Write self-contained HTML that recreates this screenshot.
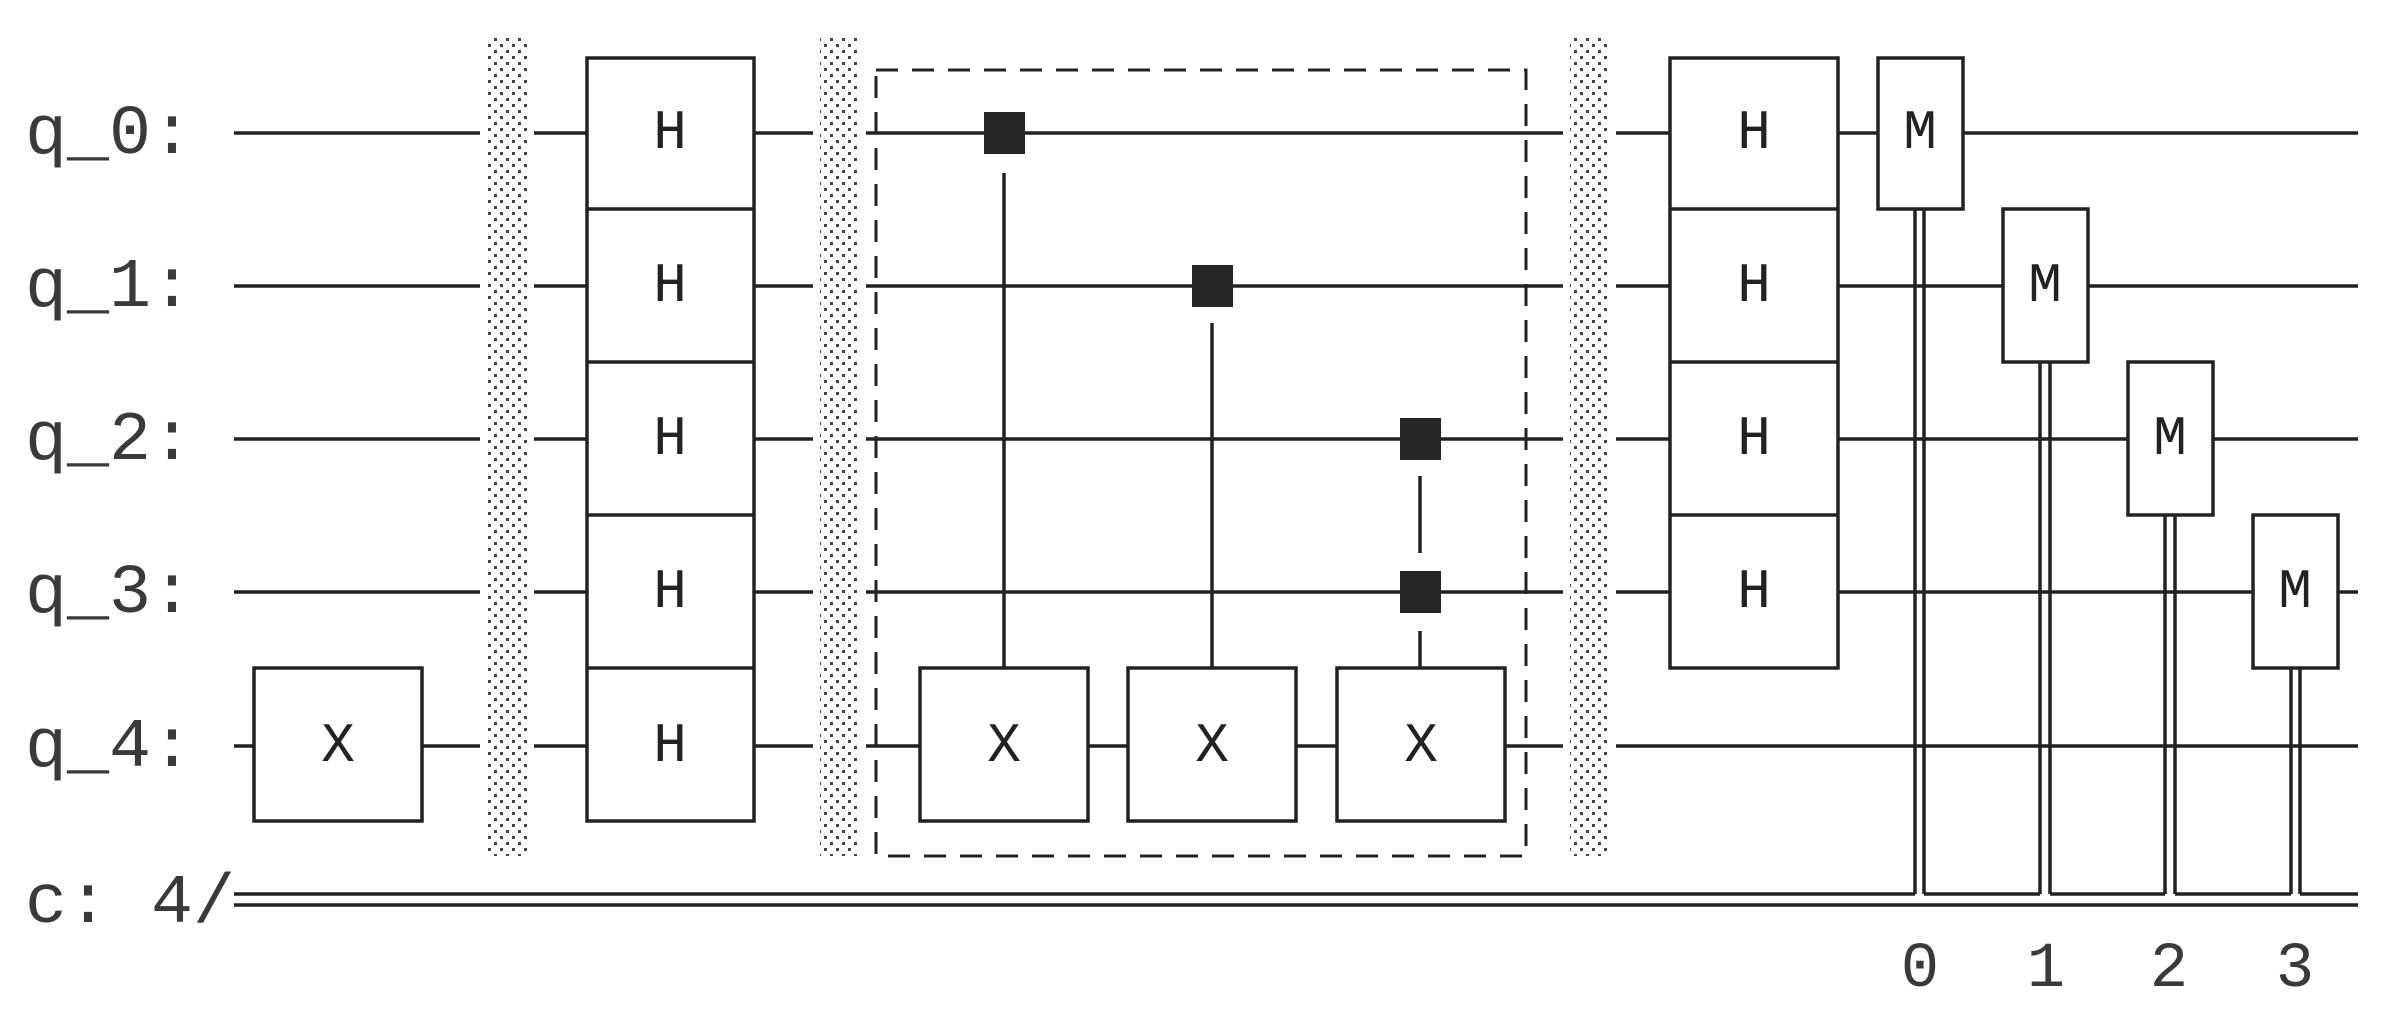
<!DOCTYPE html>
<html><head><meta charset="utf-8"><style>
html,body{margin:0;padding:0;background:#fff}
svg{display:block}
.lb{font-family:"Liberation Mono",monospace;font-size:70px;fill:#3a3a3a}
.g{font-family:"Liberation Mono",monospace;font-size:56px;fill:#222;text-anchor:middle;dominant-baseline:central}
.d{font-family:"Liberation Mono",monospace;font-size:64px;fill:#3a3a3a;text-anchor:middle}
</style></head><body>
<svg width="2397" height="1022" viewBox="0 0 2397 1022" xmlns="http://www.w3.org/2000/svg">
<defs>
<pattern id="dots" width="12" height="12" patternUnits="userSpaceOnUse">
<rect x="2" y="2" width="3" height="3" fill="#444"/>
<rect x="8" y="8" width="3" height="3" fill="#444"/>
</pattern>
</defs>
<rect width="2397" height="1022" fill="#fff"/>
<text class="lb" x="25" y="153">q_0:</text>
<text class="lb" x="25" y="306">q_1:</text>
<text class="lb" x="25" y="459">q_2:</text>
<text class="lb" x="25" y="612">q_3:</text>
<text class="lb" x="25" y="766">q_4:</text>
<text class="lb" x="25" y="922">c: 4/</text>

<g stroke="#222" stroke-width="3.5" fill="none">
<line x1="234" y1="133" x2="2358" y2="133"/>
<line x1="234" y1="286" x2="2358" y2="286"/>
<line x1="234" y1="439" x2="2358" y2="439"/>
<line x1="234" y1="592" x2="2358" y2="592"/>
<line x1="234" y1="746" x2="2358" y2="746"/>
<line x1="234" y1="905" x2="2358" y2="905"/>
<line x1="234" y1="894" x2="1915" y2="894"/>
<line x1="1924" y1="894" x2="2040" y2="894"/>
<line x1="2050" y1="894" x2="2165" y2="894"/>
<line x1="2175" y1="894" x2="2291" y2="894"/>
<line x1="2300" y1="894" x2="2358" y2="894"/>
</g>
<rect x="480" y="36" width="54" height="820" fill="#fff"/>
<rect x="487" y="36" width="40" height="820" fill="url(#dots)"/>
<rect x="813" y="36" width="53" height="820" fill="#fff"/>
<rect x="820" y="36" width="39" height="820" fill="url(#dots)"/>
<rect x="1563" y="36" width="53" height="820" fill="#fff"/>
<rect x="1570" y="36" width="39" height="820" fill="url(#dots)"/>

<g stroke="#222" stroke-width="3.5" fill="#fff">
<rect x="254" y="668" width="168" height="153"/>
<rect x="587" y="58" width="167" height="763"/>
<line x1="587" y1="209" x2="754" y2="209"/>
<line x1="587" y1="362" x2="754" y2="362"/>
<line x1="587" y1="515" x2="754" y2="515"/>
<line x1="587" y1="668" x2="754" y2="668"/>
<rect x="876" y="70" width="650" height="786" fill="none" stroke-width="3" stroke-dasharray="22 14"/>
<line x1="1004" y1="173" x2="1004" y2="668"/>
<line x1="1212" y1="323" x2="1212" y2="668"/>
<line x1="1420" y1="476" x2="1420" y2="553"/>
<line x1="1420" y1="631" x2="1420" y2="668"/>
<rect x="920" y="668" width="168" height="153"/>
<rect x="1128" y="668" width="168" height="153"/>
<rect x="1337" y="668" width="168" height="153"/>
<rect x="1670" y="58" width="168" height="610"/>
<line x1="1670" y1="209" x2="1838" y2="209"/>
<line x1="1670" y1="362" x2="1838" y2="362"/>
<line x1="1670" y1="515" x2="1838" y2="515"/>
<line x1="1915" y1="209" x2="1915" y2="894"/>
<line x1="1924" y1="209" x2="1924" y2="894"/>
<line x1="2040" y1="362" x2="2040" y2="894"/>
<line x1="2050" y1="362" x2="2050" y2="894"/>
<line x1="2165" y1="515" x2="2165" y2="894"/>
<line x1="2175" y1="515" x2="2175" y2="894"/>
<line x1="2291" y1="668" x2="2291" y2="894"/>
<line x1="2300" y1="668" x2="2300" y2="894"/>
<rect x="1878" y="58" width="85" height="151"/>
<rect x="2003" y="209" width="85" height="153"/>
<rect x="2128" y="362" width="85" height="153"/>
<rect x="2253" y="515" width="85" height="153"/>
</g>
<g fill="#262626">
<rect x="984" y="112" width="41" height="42"/>
<rect x="1192" y="265" width="41" height="42"/>
<rect x="1400" y="418" width="41" height="42"/>
<rect x="1400" y="571" width="41" height="42"/>
</g>
<text class="g" x="338" y="746">X</text>
<text class="g" x="670" y="133">H</text>
<text class="g" x="670" y="286">H</text>
<text class="g" x="670" y="439">H</text>
<text class="g" x="670" y="592">H</text>
<text class="g" x="670" y="746">H</text>
<text class="g" x="1004" y="746">X</text>
<text class="g" x="1212" y="746">X</text>
<text class="g" x="1421" y="746">X</text>
<text class="g" x="1754" y="133">H</text>
<text class="g" x="1754" y="286">H</text>
<text class="g" x="1754" y="439">H</text>
<text class="g" x="1754" y="592">H</text>
<text class="g" x="1920" y="133">M</text>
<text class="g" x="2045" y="286">M</text>
<text class="g" x="2170" y="439">M</text>
<text class="g" x="2295" y="592">M</text>
<text class="d" x="1920" y="986">0</text>
<text class="d" x="2046" y="986">1</text>
<text class="d" x="2169" y="986">2</text>
<text class="d" x="2295" y="986">3</text>
</svg>
</body></html>
